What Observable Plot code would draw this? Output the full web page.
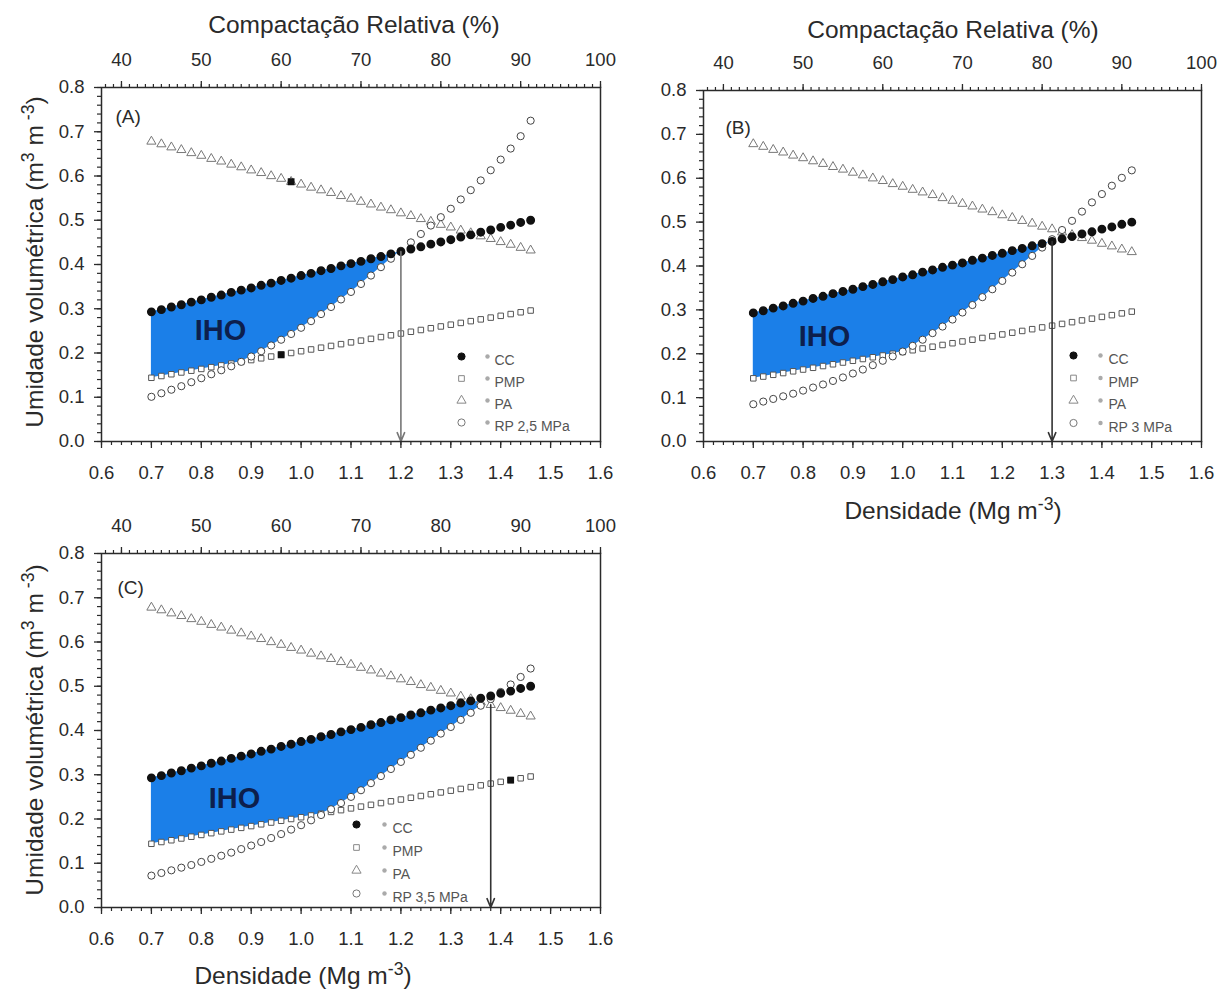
<!DOCTYPE html>
<html><head><meta charset="utf-8">
<script src="https://cdn.jsdelivr.net/npm/d3@7"></script>
<script src="https://cdn.jsdelivr.net/npm/@observablehq/plot@0.6"></script>
<style>
html,body{margin:0;padding:0;background:#fff;}
#root{position:relative;width:1232px;height:991px;overflow:hidden;font-family:"Liberation Sans",Arial,sans-serif;color:#2a2a2a;}
.panel{position:absolute;}
.title{position:absolute;white-space:nowrap;font-size:24.5px;color:#2a2a2a;line-height:1;}
.title sup{font-size:0.72em;vertical-align:0.5em;line-height:0;}
.ytitle{transform:translate(-50%,-50%) rotate(-90deg);}
.xtitle{transform:translate(-50%,-50%);}
</style></head><body><div id="root"></div>
<script>
// ---- data ----
const density = [0.70,0.72,0.74,0.76,0.78,0.80,0.82,0.84,0.86,0.88,0.90,0.92,0.94,0.96,0.98,1.00,1.02,1.04,1.06,1.08,1.10,1.12,1.14,1.16,1.18,1.20,1.22,1.24,1.26,1.28,1.30,1.32,1.34,1.36,1.38,1.40,1.42,1.44,1.46];
const CC  = [0.293,0.298,0.304,0.309,0.315,0.320,0.326,0.331,0.337,0.342,0.347,0.353,0.358,0.364,0.369,0.375,0.380,0.386,0.391,0.397,0.402,0.407,0.413,0.418,0.424,0.429,0.435,0.440,0.446,0.451,0.456,0.462,0.467,0.473,0.478,0.484,0.489,0.495,0.500];
const PMP = [0.144,0.148,0.152,0.156,0.160,0.164,0.168,0.172,0.176,0.180,0.184,0.188,0.192,0.196,0.200,0.204,0.208,0.212,0.216,0.220,0.224,0.228,0.232,0.236,0.240,0.244,0.248,0.252,0.256,0.260,0.264,0.268,0.272,0.276,0.280,0.284,0.288,0.292,0.296];
const PA  = [0.678,0.672,0.665,0.659,0.652,0.646,0.639,0.633,0.626,0.620,0.613,0.607,0.600,0.594,0.587,0.581,0.574,0.568,0.562,0.555,0.549,0.542,0.536,0.529,0.523,0.516,0.510,0.503,0.497,0.490,0.484,0.477,0.471,0.464,0.458,0.451,0.445,0.438,0.432];
const RP_A = [0.101,0.109,0.117,0.125,0.134,0.143,0.152,0.161,0.170,0.180,0.192,0.204,0.217,0.230,0.243,0.257,0.272,0.288,0.304,0.321,0.338,0.356,0.375,0.394,0.413,0.431,0.450,0.469,0.488,0.507,0.526,0.547,0.568,0.590,0.613,0.637,0.662,0.690,0.725];
const RP_B = [0.085,0.091,0.097,0.103,0.109,0.116,0.123,0.130,0.138,0.146,0.155,0.164,0.174,0.184,0.194,0.205,0.218,0.232,0.247,0.262,0.278,0.294,0.311,0.329,0.347,0.366,0.385,0.404,0.423,0.442,0.461,0.482,0.503,0.524,0.545,0.564,0.583,0.601,0.618];
const RP_C = [0.072,0.078,0.084,0.090,0.096,0.103,0.110,0.117,0.124,0.132,0.140,0.148,0.157,0.166,0.176,0.186,0.197,0.209,0.222,0.236,0.250,0.265,0.281,0.297,0.313,0.329,0.345,0.361,0.377,0.393,0.408,0.424,0.440,0.456,0.471,0.487,0.504,0.521,0.540];

const rpLabels = {A:"RP 2,5 MPa", B:"RP 3 MPa", C:"RP 3,5 MPa"};
// density where the IHO closes (arrow) and the water content at that point
const arrows = {A:{x:1.20, top:0.429, base:0}, B:{x:1.30, top:0.456, base:0}, C:{x:1.38, top:0.458, base:0}};
// isolated black markers visible in the original
const strays = {A:[{series:"PA", d:0.98},{series:"PMP", d:0.96}], B:[], C:[{series:"PMP", d:1.42}]};

// axis ticks
const REF = 1.6; // reference density for "Compactação Relativa"
const yTicks = [0.0,0.1,0.2,0.3,0.4,0.5,0.6,0.7,0.8];
const xTicks = [0.6,0.7,0.8,0.9,1.0,1.1,1.2,1.3,1.4,1.5,1.6];
const topTicks = [40,50,60,70,80,90,100];
const yMinor = d3.range(0, 0.8001, 0.02);
const xMinor = d3.range(0.6, 1.6001, 0.02);
const topMinor = d3.range(38, 100.5, 1).map(p => p / 100 * REF);

const BLUE = "#1b7fe8";

const panels = [
  {key:"A", rp:RP_A, left:0, top:0, width:616, height:500, mL:101, mR:16, mT:87, mB:59,
   arrowColor:"#777", letter:[14,22], iho:[119,232], legend:{mx:360, gx:386, tx:393, y0:269, gap:22}},
  {key:"B", rp:RP_B, left:616, top:0, width:616, height:530, mL:87, mR:31, mT:90, mB:89,
   arrowColor:"#333", letter:[22,30], iho:[121,235], legend:{mx:370, gx:397, tx:405, y0:265, gap:22.5}},
  {key:"C", rp:RP_C, left:0, top:480, width:616, height:511, mL:101, mR:16, mT:73, mB:84,
   arrowColor:"#333", letter:[16,27], iho:[133,234], legend:{mx:255, gx:283, tx:291, y0:271, gap:23}}
];

const root = document.getElementById("root");

function buildPanel(cfg) {
  const rows = density.map((d, i) => ({d, CC: CC[i], PMP: PMP[i], PA: PA[i], RP: cfg.rp[i]}));
  // IHO band: between max(PMP, RP) and min(CC, PA)
  const band = [];
  for (let i = 0; i < rows.length; i++) {
    const r = rows[i];
    const up = Math.min(r.CC, r.PA), lo = Math.max(r.PMP, r.RP);
    if (up >= lo) { band.push({d: r.d, up, lo}); continue; }
    if (i > 0) {
      const p = rows[i - 1];
      const up0 = Math.min(p.CC, p.PA), lo0 = Math.max(p.PMP, p.RP);
      const f0 = up0 - lo0, f1 = up - lo, t = f0 / (f0 - f1);
      const yv = up0 + t * (up - up0);
      band.push({d: p.d + t * (r.d - p.d), up: yv, lo: yv});
    }
    break;
  }
  const strayRows = strays[cfg.key].map(s => {
    const i = density.findIndex(v => Math.abs(v - s.d) < 1e-9);
    return {d: s.d, v: rows[i][s.series]};
  });

  const L = cfg.legend;
  const legendItems = [
    {label:"CC", symbol:"circle", r:3.6, fill:"#111", stroke:"#111"},
    {label:"PMP", symbol:"square", r:3.2, fill:"white", stroke:"#888"},
    {label:"PA", symbol:"triangle", r:3.4, fill:"white", stroke:"#888"},
    {label:rpLabels[cfg.key], symbol:"circle", r:3.6, fill:"white", stroke:"#777"}
  ];
  const legendMarks = [];
  legendItems.forEach((it, i) => {
    const dy = L.y0 + i * L.gap;
    legendMarks.push(Plot.dot([it], {frameAnchor:"top-left", dx:L.mx, dy, symbol:it.symbol, r:it.r, fill:it.fill, stroke:it.stroke, strokeWidth:1}));
    legendMarks.push(Plot.dot([it], {frameAnchor:"top-left", dx:L.gx, dy, r:2.2, fill:"#aaa", stroke:"none"}));
    legendMarks.push(Plot.text([it], {frameAnchor:"top-left", dx:L.tx, dy: dy - 1, text:d => d.label, textAnchor:"start", fontSize:14, fill:"#555"}));
  });

  const chart = Plot.plot({
    width: cfg.width, height: cfg.height,
    marginLeft: cfg.mL, marginRight: cfg.mR, marginTop: cfg.mT, marginBottom: cfg.mB,
    style: {fontFamily: "'Liberation Sans', Arial, sans-serif", fontSize: "18.5px", color: "#2a2a2a", background: "transparent", overflow: "visible"},
    x: {domain: [0.6, 1.6]},
    y: {domain: [0, 0.8]},
    marks: [
      Plot.areaY(band, {x: "d", y1: "lo", y2: "up", fill: BLUE}),
      Plot.dot(rows, {x: "d", y: "PA", symbol: "triangle", r: 3.4, fill: "white", stroke: "#777", strokeWidth: 1}),
      Plot.dot(rows, {x: "d", y: "PMP", symbol: "square", r: 3.1, fill: "white", stroke: "#555", strokeWidth: 1}),
      Plot.dot(rows, {x: "d", y: "RP", symbol: "circle", r: 3.6, fill: "white", stroke: "#444", strokeWidth: 1}),
      Plot.dot(rows, {x: "d", y: "CC", symbol: "circle", r: 3.7, fill: "#111", stroke: "#111"}),
      Plot.dot(strayRows, {x: "d", y: "v", symbol: "square", r: 3, fill: "#111", stroke: "#111"}),
      Plot.arrow([arrows[cfg.key]], {x1: "x", x2: "x", y1: "top", y2: "base", stroke: cfg.arrowColor, strokeWidth: 1.6, headLength: 9, headAngle: 45}),
      Plot.frame({stroke: "#2a2a2a", strokeWidth: 1.5}),
      Plot.axisY({ticks: yTicks, tickFormat: d3.format(".1f"), tickSize: 7, tickPadding: 10, strokeWidth: 1.3, label: null}),
      Plot.axisY({ticks: yMinor, tickSize: 4, tickFormat: () => "", strokeWidth: 1.2, label: null}),
      Plot.axisX({anchor: "bottom", ticks: xTicks, tickFormat: d3.format(".1f"), tickSize: 7, tickPadding: 17, strokeWidth: 1.3, label: null}),
      Plot.axisX({anchor: "bottom", ticks: xMinor, tickSize: 4, tickFormat: () => "", strokeWidth: 1.2, label: null}),
      Plot.axisX({anchor: "top", ticks: topTicks.map(p => p / 100 * REF), tickFormat: d => String(Math.round(d / REF * 100)), tickSize: 7, tickPadding: 15, strokeWidth: 1.3, label: null}),
      Plot.axisX({anchor: "top", ticks: topMinor, tickSize: 4, tickFormat: () => "", strokeWidth: 1.2, label: null}),
      Plot.text([`(${cfg.key})`], {frameAnchor: "top-left", dx: cfg.letter[0], dy: cfg.letter[1], text: d => d, textAnchor: "start", fontSize: 19}),
      Plot.text(["IHO"], {frameAnchor: "top-left", dx: cfg.iho[0], dy: cfg.iho[1], text: d => d, textAnchor: "middle", fontSize: 29, fontWeight: "bold", fill: "#0d1f4d"}),
      ...legendMarks
    ]
  });
  chart.classList.add("panel");
  chart.style.left = cfg.left + "px";
  chart.style.top = cfg.top + "px";
  root.appendChild(chart);
}

panels.forEach(buildPanel);

function addTitle(html, cx, cy, cls) {
  const el = document.createElement("div");
  el.className = "title " + cls;
  el.innerHTML = html;
  el.style.left = cx + "px";
  el.style.top = cy + "px";
  root.appendChild(el);
}
const yTitle = "Umidade volumétrica (m<sup>3</sup> m<sup> -3</sup>)";
const xTitle = "Densidade (Mg m<sup>-3</sup>)";
const topTitle = "Compactação Relativa (%)";
addTitle(topTitle, 354, 25, "xtitle");
addTitle(topTitle, 953, 30, "xtitle");
addTitle(yTitle, 35, 262, "ytitle");
addTitle(yTitle, 35, 730, "ytitle");
addTitle(xTitle, 953, 511, "xtitle");
addTitle(xTitle, 303, 976, "xtitle");
</script>
</body></html>
